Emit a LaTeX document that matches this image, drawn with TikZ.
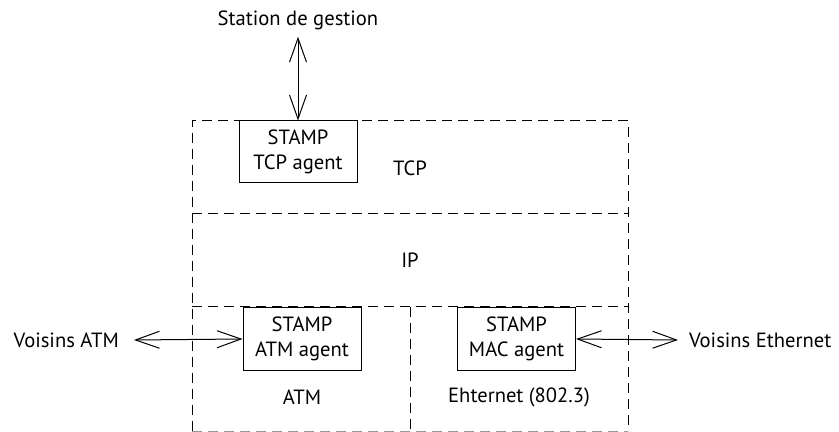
\documentclass[tikz,border=0pt]{standalone}
\usepackage{fontspec}
\setmainfont{PT Sans}
\usetikzlibrary{arrows.meta}

\begin{document}
\begin{tikzpicture}[x=0.5pt,y=-0.5pt,line width=0.5pt]
	\tikzstyle{every node}+=[font=\fontsize{10.3}{12.4}\selectfont]
	\tikzstyle{layer}=[dash pattern=on 5pt off 3pt]
	\tikzstyle{agent}=[draw, align=center, minimum width=59pt, minimum height=31pt, inner sep=0pt]
	\tikzstyle{link}=[{Straight Barb[length=12pt,width=8.5pt]}-{Straight Barb[length=12pt,width=8.5pt]}]
	\useasboundingbox (0,0) rectangle (839,432);
	% layers
	\draw [layer] (192,431) -- (192,121) -- (628,121) -- (628,431);
	\draw [layer, black!40] (192,431) -- (628,431);
	\draw [layer] (192,214) -- (628,214);
	\draw [layer] (192,307) -- (628,307);
	\draw [layer] (410,307) -- (410,432);
	\draw (410,168) node (tcp) {TCP};
	\draw (410,260) node (ip) {IP};
	\draw (302,397) node (atm) {ATM};
	\draw (519,397) node (eth) {Ehternet (802.3)};
	% agents
	\node [agent] (tcpagent) at (298,152) {STAMP\\TCP agent};
	\node [agent] (atmagent) at (302,339) {STAMP\\ATM agent};
	\node [agent] (macagent) at (516.5,339) {STAMP\\MAC agent};
	% neighbours
	\node (station) at (298,20) {Station de gestion};
	\node [anchor=east] (voisinsatm) at (126,340) {Voisins ATM};
	\node [anchor=west] (voisinseth) at (682,340) {Voisins Ethernet};
	\draw [link] (station.south) -- (tcpagent.north);
	\draw [link] ([xshift=4pt]voisinsatm.east) -- (atmagent.west);
	\draw [link] (macagent.east) -- ([xshift=-2pt]voisinseth.west);
\end{tikzpicture}
\end{document}
